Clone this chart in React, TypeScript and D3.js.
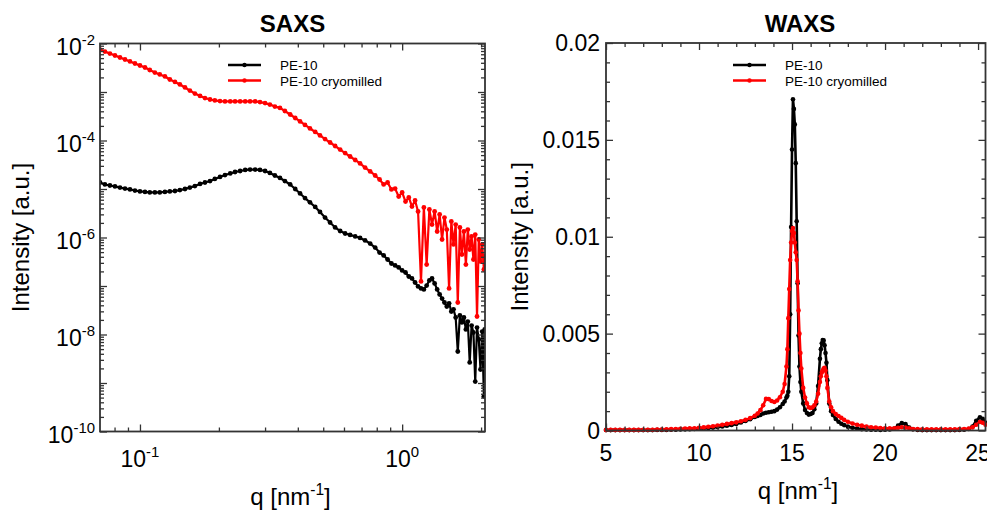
import React, { useEffect, useRef } from 'react'
import * as d3 from 'd3'

const FONT = 'Arial, "Liberation Sans", Helvetica, sans-serif'
const COLORS = ['#000000', '#ff0000']
const seriesNames = ['PE-10', 'PE-10 cryomilled']

// ---- SAXS (log-log) ----
const saxsQ = [
  0.0704, 0.0735, 0.0768, 0.0803, 0.0839, 0.0877, 0.0916, 0.0957, 0.100, 0.1045,
  0.109, 0.114, 0.119, 0.1245, 0.130, 0.136, 0.142, 0.1485, 0.155, 0.162,
  0.1695, 0.177, 0.185, 0.193, 0.202, 0.211, 0.221, 0.2305, 0.241, 0.252,
  0.263, 0.275, 0.287, 0.300, 0.313, 0.327, 0.342, 0.357, 0.374, 0.391,
  0.408, 0.426, 0.445, 0.466, 0.486, 0.508, 0.531, 0.555, 0.580, 0.606,
  0.633, 0.662, 0.691, 0.722, 0.755, 0.789,
  0.82, 0.85, 0.88, 0.91, 0.94, 0.97, 1.00, 1.03, 1.06, 1.09,
  1.12, 1.15, 1.18, 1.21, 1.24, 1.27, 1.30, 1.33, 1.36, 1.39,
  1.42, 1.45, 1.48, 1.51, 1.54, 1.57, 1.60, 1.63, 1.66, 1.69,
  1.72, 1.75, 1.78, 1.81, 1.84, 1.87, 1.90, 1.93, 1.96, 1.99,
  2.02, 2.05, 2.065,
]
const saxsPE10 = [
  1.36e-5, 1.24e-5, 1.18e-5, 1.13e-5, 1.07e-5, 1.02e-5, 9.8e-6, 9.3e-6, 8.9e-6, 8.7e-6,
  8.5e-6, 8.5e-6, 8.5e-6, 8.7e-6, 8.9e-6, 9.1e-6, 9.5e-6, 1.0e-5, 1.07e-5, 1.15e-5,
  1.27e-5, 1.36e-5, 1.46e-5, 1.61e-5, 1.77e-5, 1.94e-5, 2.09e-5, 2.24e-5, 2.35e-5, 2.47e-5,
  2.52e-5, 2.52e-5, 2.47e-5, 2.35e-5, 2.14e-5, 1.90e-5, 1.69e-5, 1.46e-5, 1.24e-5, 1.0e-5,
  8.1e-6, 6.5e-6, 5.3e-6, 4.26e-6, 3.36e-6, 2.58e-6, 2.04e-6, 1.61e-6, 1.36e-6, 1.21e-6,
  1.13e-6, 1.05e-6, 9.8e-7, 8.7e-7, 7.5e-7, 6.2e-7,
  4.9e-7, 4.26e-7, 3.52e-7, 2.91e-7, 2.65e-7, 2.41e-7, 2.09e-7, 1.90e-7, 1.57e-7, 1.43e-7,
  1.18e-7, 9.8e-8, 8.9e-8, 8.5e-8, 1.02e-7, 1.30e-7, 1.43e-7, 1.13e-7, 8.5e-8, 6.7e-8,
  5.5e-8, 4.57e-8, 3.78e-8, 4.4e-8, 2.98e-8, 3.3e-8, 2.24e-8, 4.46e-9, 2.47e-8, 1.77e-8,
  2.24e-8, 1.27e-8, 1.85e-8, 2.65e-9, 1.53e-8, 1.10e-8, 1.07e-9, 1.39e-8, 7.9e-9, 1.90e-9,
  1.15e-8, 5.3e-10, 1.27e-8,
]
const saxsCryo = [
  7.5e-3, 6.8e-3, 6.2e-3, 5.66e-3, 5.15e-3, 4.68e-3, 4.26e-3, 3.87e-3, 3.52e-3, 3.20e-3,
  2.84e-3, 2.52e-3, 2.30e-3, 2.09e-3, 1.81e-3, 1.61e-3, 1.43e-3, 1.24e-3, 1.07e-3, 9.3e-4,
  8.3e-4, 7.5e-4, 7.0e-4, 6.7e-4, 6.5e-4, 6.4e-4, 6.4e-4, 6.4e-4, 6.4e-4, 6.4e-4,
  6.4e-4, 6.4e-4, 6.2e-4, 5.9e-4, 5.5e-4, 5.0e-4, 4.7e-4, 4.06e-4, 3.44e-4, 2.91e-4,
  2.47e-4, 2.09e-4, 1.77e-4, 1.50e-4, 1.27e-4, 1.07e-4, 9.1e-5, 7.7e-5, 6.5e-5, 5.5e-5,
  4.68e-5, 3.96e-5, 3.36e-5, 2.77e-5, 2.30e-5, 1.90e-5,
  1.57e-5, 1.24e-5, 1.36e-5, 9.8e-6, 1.02e-5, 7.0e-6, 8.5e-6, 5.5e-6, 6.7e-6, 4.36e-6,
  5.8e-6, 3.44e-6, 1.24e-7, 4.16e-6, 2.77e-7, 3.78e-6, 1.85e-6, 3.44e-6, 1.33e-6, 2.98e-6,
  9.1e-7, 2.58e-6, 1.46e-6, 8.9e-8, 2.14e-6, 7.2e-7, 1.85e-6, 4.57e-8, 1.61e-6, 4.46e-7,
  1.33e-6, 2.77e-7, 1.46e-6, 5.66e-7, 1.05e-6, 3.52e-7, 1.15e-6, 2.35e-8, 9.1e-7, 3.20e-7,
  7.2e-7, 2.19e-7, 4.06e-7,
]
const saxsXTickExp = [-1, 0]
const saxsYTickExp = [-2, -4, -6, -8, -10]

// ---- WAXS (linear) ----
const waxsQ = [
  5, 5.25, 5.5, 5.75, 6, 6.25, 6.5, 6.75, 7, 7.25, 7.5, 7.75, 8, 8.25, 8.5, 8.75, 9,
  9.25, 9.5, 9.75, 10, 10.25, 10.5, 10.75, 11, 11.25, 11.5, 11.75, 12, 12.25, 12.5, 12.75, 13,
  13.15, 13.3, 13.45, 13.6, 13.75, 13.9, 14.05, 14.2, 14.35, 14.5,
  14.6, 14.7, 14.75, 14.8, 14.85, 14.9, 14.95, 15.0, 15.05, 15.1, 15.15, 15.2, 15.25, 15.3,
  15.35, 15.4, 15.45, 15.5,
  15.6, 15.7, 15.8, 15.9, 16.0, 16.1, 16.2, 16.3, 16.4, 16.5, 16.55, 16.6, 16.65, 16.7,
  16.75, 16.8, 16.85, 16.9, 17.0, 17.1, 17.2,
  17.35, 17.5, 17.65, 17.8, 18.0, 18.25, 18.5, 18.75, 19, 19.25, 19.5, 19.75, 20, 20.25,
  20.5, 20.7, 20.9, 21.1, 21.3, 21.5, 21.75, 22, 22.25, 22.5, 22.75, 23, 23.25, 23.5, 23.75,
  24, 24.25, 24.5, 24.7, 24.9, 25.1, 25.25, 25.4,
]
const waxsPE10 = [
  0.00002, 0.00002, 0.00002, 0.00002, 0.00002, 0.00002, 0.00002, 0.00002, 0.00002, 0.00002,
  0.00002, 0.00003, 0.00003, 0.00003, 0.00004, 0.00004, 0.00005, 0.00006, 0.00007, 0.00008,
  0.0001, 0.00011, 0.00013, 0.00015, 0.00018, 0.00021, 0.00025, 0.00029, 0.00034, 0.00041,
  0.00049, 0.00058, 0.0007,
  0.00075, 0.0008, 0.00088, 0.00092, 0.00094, 0.00097, 0.001, 0.00108, 0.0012, 0.00137,
  0.0015, 0.0017, 0.0018, 0.002, 0.0028, 0.006, 0.0105, 0.0145, 0.0171, 0.0166, 0.0158,
  0.0138, 0.0108, 0.0076, 0.0049, 0.0033, 0.0025, 0.002,
  0.0014, 0.00106, 0.0009, 0.00082, 0.00085, 0.0009, 0.0011, 0.0014, 0.0023, 0.0037,
  0.0042, 0.0045, 0.00467, 0.00465, 0.0044, 0.004, 0.0035, 0.0026, 0.0014, 0.001, 0.0008,
  0.0006, 0.00045, 0.00035, 0.00028, 0.0002, 0.00014, 0.0001, 0.00007, 0.00005, 0.00004,
  0.00004, 0.00003, 0.00004, 0.00005, 0.0001, 0.00025, 0.00038, 0.00033, 0.00015, 0.00006,
  0.00003, 0.00002, 0.00002, 0.00002, 0.00002, 0.00002, 0.00002, 0.00002, 0.00002, 0.00003,
  0.00004, 0.00008, 0.0002, 0.0005, 0.00068, 0.0006, 0.0004,
]
const waxsCryo = [
  0.00003, 0.00003, 0.00003, 0.00003, 0.00003, 0.00003, 0.00003, 0.00003, 0.00004, 0.00004,
  0.00004, 0.00005, 0.00005, 0.00006, 0.00007, 0.00008, 0.00009, 0.0001, 0.00011, 0.00012,
  0.00014, 0.00016, 0.00019, 0.00022, 0.00026, 0.0003, 0.00034, 0.00038, 0.00042, 0.00048,
  0.00055, 0.00064, 0.00076,
  0.00088, 0.00105, 0.0013, 0.00163, 0.00162, 0.00152, 0.00147, 0.00155, 0.00172, 0.002,
  0.0024, 0.0033, 0.0042, 0.0058, 0.0073, 0.0088, 0.0097, 0.0103, 0.01045, 0.0102, 0.0097,
  0.0092, 0.0088, 0.0077, 0.0062, 0.005, 0.004, 0.0032,
  0.0022, 0.0017, 0.0014, 0.0012, 0.00116, 0.0012, 0.0013, 0.0015, 0.0019, 0.0025,
  0.0028, 0.003, 0.0031, 0.0032, 0.00323, 0.0031, 0.0028, 0.0022, 0.0015, 0.0012, 0.001,
  0.00085, 0.00075, 0.00065, 0.00055, 0.00045, 0.00036, 0.0003, 0.00025, 0.0002, 0.00017,
  0.00015, 0.00013, 0.00012, 0.00011, 0.00011, 0.00014, 0.00017, 0.00015, 0.00011, 0.00008,
  0.00007, 0.00006, 0.00006, 0.00006, 0.00006, 0.00006, 0.00006, 0.00006, 0.00006, 0.00007,
  0.00008, 0.0001, 0.00016, 0.0003, 0.00044, 0.0004, 0.0003,
]
const waxsXTicks = [5, 10, 15, 20, 25]
const waxsYTicks = [0, 0.005, 0.01, 0.015, 0.02]
const waxsYTickLabels = ['0', '0.005', '0.01', '0.015', '0.02']

type Box = { left: number; right: number; top: number; bottom: number }

const frameTicks = (g: any, x: any, y: any, box: Box, xMajor: number[], xMinor: number[], yMajor: number[], yMinor: number[]) => {
  const specs: [any, string, number[], number][] = [
    [d3.axisBottom(x), `translate(0,${box.bottom})`, xMajor, 7],
    [d3.axisBottom(x), `translate(0,${box.bottom})`, xMinor, 4],
    [d3.axisTop(x), `translate(0,${box.top})`, xMajor, 7],
    [d3.axisTop(x), `translate(0,${box.top})`, xMinor, 4],
    [d3.axisLeft(y), `translate(${box.left},0)`, yMajor, 7],
    [d3.axisLeft(y), `translate(${box.left},0)`, yMinor, 4],
    [d3.axisRight(y), `translate(${box.right},0)`, yMajor, 7],
    [d3.axisRight(y), `translate(${box.right},0)`, yMinor, 4],
  ]
  specs.forEach(([axis, tr, vals, len]) => {
    g.append('g')
      .attr('transform', tr)
      .call(axis.tickValues(vals).tickSize(-len).tickSizeOuter(0).tickFormat(() => ''))
      .call((s: any) => s.select('.domain').remove())
      .call((s: any) => s.selectAll('line').attr('stroke', '#333').attr('stroke-width', 1.3))
  })
  g.append('rect')
    .attr('x', box.left).attr('y', box.top)
    .attr('width', box.right - box.left).attr('height', box.bottom - box.top)
    .attr('fill', 'none').attr('stroke', '#333').attr('stroke-width', 1.8)
}

const supText = (g: any, x: number, y: number, base: string, sup: string, anchor: string, size: number, tail = '') => {
  const t = g.append('text')
    .attr('x', x).attr('y', y)
    .attr('text-anchor', anchor)
    .attr('font-family', FONT)
    .attr('font-size', size)
    .attr('fill', '#000')
  t.append('tspan').text(base)
  t.append('tspan').attr('dy', -size * 0.42).attr('font-size', size * 0.65).text(sup)
  if (tail) t.append('tspan').attr('dy', size * 0.42).text(tail)
  return t
}

const drawSeries = (g: any, x: any, y: any, q: number[], vals: number[], color: string, r: number, lw: number) => {
  const pts = q.map((v, i) => [x(v), y(vals[i])] as [number, number])
  g.append('path')
    .attr('d', d3.line()(pts))
    .attr('fill', 'none')
    .attr('stroke', color)
    .attr('stroke-width', lw)
    .attr('stroke-linejoin', 'round')
  g.append('g')
    .selectAll('circle')
    .data(pts)
    .join('circle')
    .attr('cx', (d: any) => d[0])
    .attr('cy', (d: any) => d[1])
    .attr('r', r)
    .attr('fill', color)
}

const legend = (g: any, x0: number, y0: number) => {
  seriesNames.forEach((name, i) => {
    const yy = y0 + i * 15.5
    g.append('line')
      .attr('x1', x0).attr('x2', x0 + 33).attr('y1', yy).attr('y2', yy)
      .attr('stroke', COLORS[i]).attr('stroke-width', 2.5)
    g.append('circle').attr('cx', x0 + 16.5).attr('cy', yy).attr('r', 2.2).attr('fill', COLORS[i])
    g.append('text')
      .attr('x', x0 + 52).attr('y', yy + 5)
      .attr('font-family', FONT).attr('font-size', 13.5).attr('fill', '#000')
      .text(name)
  })
}

const yTitle = (g: any, x: number, y: number) => {
  g.append('text')
    .attr('transform', `translate(${x},${y}) rotate(-90)`)
    .attr('text-anchor', 'middle')
    .attr('font-family', FONT).attr('font-size', 24).attr('fill', '#000')
    .text('Intensity [a.u.]')
}

const title = (g: any, x: number, text: string) => {
  g.append('text')
    .attr('x', x).attr('y', 32)
    .attr('text-anchor', 'middle')
    .attr('font-family', FONT).attr('font-size', 24).attr('font-weight', 'bold').attr('fill', '#000')
    .text(text)
}

const isPow10 = (v: number) => Math.abs(Math.log10(v) - Math.round(Math.log10(v))) < 1e-6

const App = () => {
  const ref = useRef<SVGSVGElement>(null)

  useEffect(() => {
    const svg = d3.select(ref.current)
    svg.selectAll('*').remove()

    // ---------- SAXS ----------
    const sb: Box = { left: 100, right: 485, top: 43.5, bottom: 431.5 }
    const sx = d3.scaleLog().domain([0.0704, 2.07]).range([sb.left, sb.right])
    const sy = d3.scaleLog().domain([1e-10, 1e-2]).range([sb.bottom, sb.top])
    const sg = svg.append('g')

    sg.append('clipPath').attr('id', 'clip-saxs')
      .append('rect').attr('x', sb.left).attr('y', sb.top)
      .attr('width', sb.right - sb.left).attr('height', sb.bottom - sb.top)
    const sData = sg.append('g').attr('clip-path', 'url(#clip-saxs)')
    drawSeries(sData, sx, sy, saxsQ, saxsPE10, COLORS[0], 2.4, 2.2)
    drawSeries(sData, sx, sy, saxsQ, saxsCryo, COLORS[1], 2.4, 2.2)

    const sxAll = sx.ticks()
    const syAll = sy.ticks()
    frameTicks(sg, sx, sy, sb,
      saxsXTickExp.map(e => Math.pow(10, e)), sxAll.filter(v => !isPow10(v)),
      syAll.filter(v => isPow10(v)), syAll.filter(v => !isPow10(v)))

    saxsYTickExp.forEach(e => {
      supText(sg, sb.left - 5, sy(Math.pow(10, e)) + 11, '10', String(e), 'end', 23)
    })
    saxsXTickExp.forEach(e => {
      supText(sg, sx(Math.pow(10, e)), 467, '10', String(e), 'middle', 23)
    })
    supText(sg, (sb.left + sb.right) / 2 - 2, 505, 'q [nm', '-1', 'middle', 24, ']')
    yTitle(sg, 29, (sb.top + sb.bottom) / 2)
    title(sg, (sb.left + sb.right) / 2, 'SAXS')
    legend(sg, 228, 65)

    // ---------- WAXS ----------
    const wb: Box = { left: 606, right: 985.5, top: 43, bottom: 430.5 }
    const wx = d3.scaleLinear().domain([5, 25.4]).range([wb.left, wb.right])
    const wy = d3.scaleLinear().domain([0, 0.02]).range([wb.bottom, wb.top])
    const wg = svg.append('g')

    drawSeries(wg, wx, wy, waxsQ, waxsPE10, COLORS[0], 2.3, 2.6)
    drawSeries(wg, wx, wy, waxsQ, waxsCryo, COLORS[1], 2.3, 2.6)

    frameTicks(wg, wx, wy, wb,
      waxsXTicks, d3.range(6, 26).filter(v => v % 5 !== 0),
      waxsYTicks, d3.range(1, 20).filter(v => v % 5 !== 0).map(v => v / 1000))

    waxsYTicks.forEach((v, i) => {
      wg.append('text')
        .attr('x', wb.left - 6).attr('y', wy(v) + 8)
        .attr('text-anchor', 'end')
        .attr('font-family', FONT).attr('font-size', 23).attr('fill', '#000')
        .text(waxsYTickLabels[i])
    })
    waxsXTicks.forEach(v => {
      wg.append('text')
        .attr('x', wx(v)).attr('y', 461)
        .attr('text-anchor', 'middle')
        .attr('font-family', FONT).attr('font-size', 23).attr('fill', '#000')
        .text(String(v))
    })
    supText(wg, 798, 499, 'q [nm', '-1', 'middle', 24, ']')
    yTitle(wg, 528, (wb.top + wb.bottom) / 2)
    title(wg, 800, 'WAXS')
    legend(wg, 733, 65)
  }, [])

  return (
    <svg
      ref={ref}
      width={987}
      height={512}
      style={{ position: 'absolute', left: 0, top: 0, background: '#fff' }}
    />
  )
}

export default App
